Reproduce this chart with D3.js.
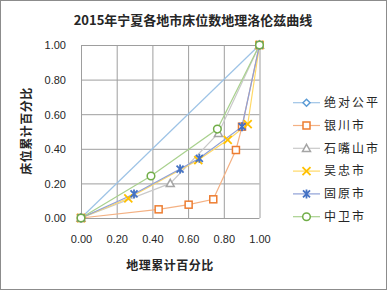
<!DOCTYPE html>
<html>
<head>
<meta charset="utf-8">
<script src="https://cdn.jsdelivr.net/npm/d3@7"></script>
<style>
  body { margin: 0; background: #fff; }
  text { font-family: "Liberation Sans", "Noto Sans CJK SC", sans-serif; fill: #262626; }
  .cjk { font-family: "Noto Sans CJK SC", sans-serif; }
</style>
</head>
<body>
<div id="chart"></div>
<script>
let width = 387;
let height = 290;

// 数据：累计百分比 (x = 地理, y = 床位)
let seriesNames = ["绝对公平", "银川市", "石嘴山市", "吴忠市", "固原市", "中卫市"];
let pingjunX = [0, 1];
let pingjunY = [0, 1];
let yinchuanX = [0, 0.435, 0.603, 0.741, 0.868, 0.902, 1];
let yinchuanY = [0, 0.050, 0.077, 0.108, 0.393, 0.528, 1];
let shizuishanX = [0, 0.50, 0.77, 1];
let shizuishanY = [0, 0.20, 0.49, 1];
let wuzhongX = [0, 0.265, 0.657, 0.822, 0.934, 1];
let wuzhongY = [0, 0.114, 0.335, 0.451, 0.542, 1];
let guyuanX = [0, 0.297, 0.555, 0.663, 0.902, 1];
let guyuanY = [0, 0.139, 0.283, 0.345, 0.528, 1];
let zhongweiX = [0, 0.392, 0.764, 1];
let zhongweiY = [0, 0.243, 0.514, 1];
let tickValues = [0, 0.2, 0.4, 0.6, 0.8, 1.0];

let lineColors = ["#9dc3e6", "#f4b183", "#c9c9c9", "#ffd966", "#8fa0d6", "#a9d18e"];
let markColors = ["#5b9bd5", "#ed7d31", "#a5a5a5", "#ffc000", "#4472c4", "#70ad47"];
let markTypes = ["diamond", "square", "triangle", "x", "star", "circle"];

let allX = [pingjunX, yinchuanX, shizuishanX, wuzhongX, guyuanX, zhongweiX];
let allY = [pingjunY, yinchuanY, shizuishanY, wuzhongY, guyuanY, zhongweiY];

let series = seriesNames.map(function(n, i) {
    return {
        name: n,
        pts: allX[i].map(function(x, j) { return [x, allY[i][j]]; }),
        line: lineColors[i],
        mark: markColors[i],
        type: markTypes[i]
    };
});

let svg = d3.select('#chart')
    .append('svg')
        .attr('width', width)
        .attr('height', height);

// cadre
svg.append('rect')
    .attr('x', 0.5).attr('y', 0.5)
    .attr('width', width - 1).attr('height', height - 1)
    .attr('fill', '#fff')
    .attr('stroke', '#8c8c8c');

let x = d3.scaleLinear().domain([0, 1]).range([81, 259.5]);
let y = d3.scaleLinear().domain([0, 1]).range([218, 45]);

// grille
let g = svg.append('g');
g.append('g')
    .attr('transform', 'translate(0,218)')
    .call(d3.axisBottom(x).tickValues(tickValues).tickSize(-173).tickFormat(d3.format('.2f')))
    .call(function(a) {
        a.select('.domain').remove();
        a.selectAll('line').attr('stroke', '#9e9e9e');
        a.selectAll('text').attr('dy', 0).attr('y', 25)
            .style('font-size', '11px');
    });
g.append('g')
    .attr('transform', 'translate(81,0)')
    .call(d3.axisLeft(y).tickValues(tickValues).tickSize(-178.5).tickFormat(d3.format('.2f')))
    .call(function(a) {
        a.select('.domain').remove();
        a.selectAll('line').attr('stroke', '#9e9e9e');
        a.selectAll('text').attr('x', -15).attr('dy', '0.35em')
            .style('font-size', '11px');
    });

// lignes
let line = d3.line()
    .x(function(d) { return x(d[0]); })
    .y(function(d) { return y(d[1]); });

series.forEach(function(s) {
    svg.append('path')
        .attr('d', line(s.pts))
        .attr('fill', 'none')
        .attr('stroke', s.line)
        .attr('stroke-width', 1.2);
});

function drawMark(sel, type, color, cx, cy) {
    let m = sel.append('g').attr('transform', 'translate(' + cx + ',' + cy + ')');
    if (type == 'diamond') {
        m.append('path').attr('d', 'M0,-3.5L3.5,0L0,3.5L-3.5,0Z')
            .attr('fill', '#fff').attr('stroke', color).attr('stroke-width', 1.5);
    } else if (type == 'square') {
        m.append('rect').attr('x', -3.5).attr('y', -3.5).attr('width', 7).attr('height', 7)
            .attr('fill', '#fff').attr('stroke', color).attr('stroke-width', 1.5);
    } else if (type == 'triangle') {
        m.append('path').attr('d', 'M0,-4L4,3.2L-4,3.2Z')
            .attr('fill', '#fff').attr('stroke', color).attr('stroke-width', 1.5);
    } else if (type == 'x') {
        m.append('path').attr('d', 'M-4,-4L4,4M-4,4L4,-4')
            .attr('stroke', color).attr('stroke-width', 1.8);
    } else if (type == 'star') {
        m.append('path').attr('d', 'M-3.5,-3.5L3.5,3.5M-3.5,3.5L3.5,-3.5M0,-4.5L0,4.5')
            .attr('stroke', color).attr('stroke-width', 1.8);
    } else if (type == 'circle') {
        m.append('circle').attr('r', 3.8)
            .attr('fill', '#fff').attr('stroke', color).attr('stroke-width', 1.5);
    }
}

// marqueurs
series.forEach(function(s) {
    let mg = svg.append('g');
    s.pts.forEach(function(d) {
        drawMark(mg, s.type, s.mark, x(d[0]), y(d[1]));
    });
});

// titres
svg.append('text')
    .attr('class', 'cjk')
    .attr('x', 193).attr('y', 25)
    .attr('text-anchor', 'middle')
    .style('font-size', '13px').style('font-weight', 'bold')
    .text('2015年宁夏各地市床位数地理洛伦兹曲线');

svg.append('text')
    .attr('class', 'cjk')
    .attr('x', 170).attr('y', 270)
    .attr('text-anchor', 'middle')
    .style('font-size', '12px').style('font-weight', 'bold')
    .style('letter-spacing', '0.5px')
    .text('地理累计百分比');

svg.append('text')
    .attr('class', 'cjk')
    .attr('transform', 'translate(31,131) rotate(-90)')
    .attr('text-anchor', 'middle')
    .style('font-size', '12px').style('font-weight', 'bold')
    .style('letter-spacing', '0.5px')
    .text('床位累计百分比');

// légende
let legend = svg.append('g');
series.forEach(function(s, i) {
    let ly = 102.7 + i * 22.8;
    legend.append('line')
        .attr('x1', 293).attr('x2', 320).attr('y1', ly).attr('y2', ly)
        .attr('stroke', s.line).attr('stroke-width', 1.2);
    drawMark(legend, s.type, s.mark, 306.5, ly);
    legend.append('text')
        .attr('class', 'cjk')
        .attr('x', 324).attr('y', ly).attr('dy', '0.35em')
        .style('font-size', '12px')
        .style('letter-spacing', '2px')
        .text(s.name);
});
</script>
</body>
</html>
